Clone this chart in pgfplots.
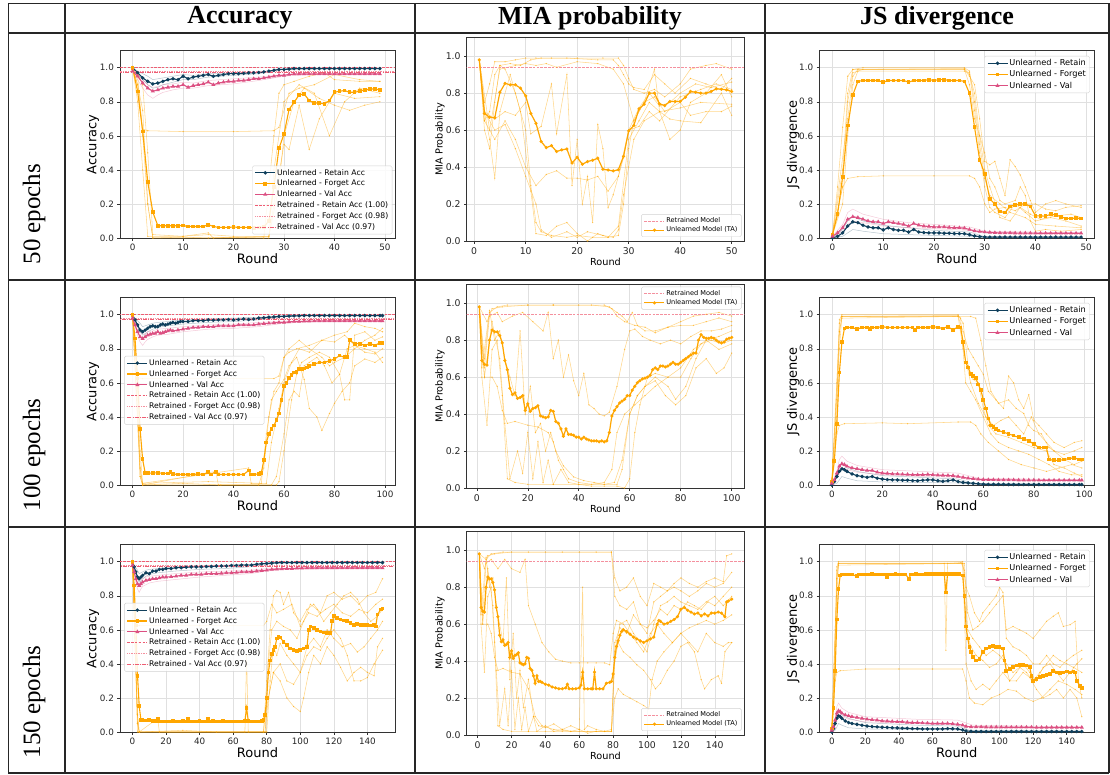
\documentclass[border=0pt]{standalone}
\usepackage{fontspec}
\setmainfont{DejaVu Sans}
\newfontfamily\headserif{Liberation Serif}
\usepackage{pgfplots}
\pgfplotsset{compat=1.18}
\definecolor{navy}{HTML}{0F3F5C}
\definecolor{orng}{HTML}{FFA600}
\definecolor{pinkv}{HTML}{DC5082}
\definecolor{retr}{HTML}{EE5D73}
\definecolor{retrl}{HTML}{F4909E}
\newcommand{\fs}[1]{\fontsize{#1}{#1}\selectfont}
\pgfplotsset{
 panel/.style={scale only axis, ymin=0, ymax=1.1, ytick={0,0.2,0.4,0.6,0.8,1.0},
  yticklabel style={/pgf/number format/fixed,/pgf/number format/fixed zerofill,/pgf/number format/precision=1},
  scaled ticks=false, /pgf/number format/assume math mode=true,
  grid=major, major grid style={black!12, line width=0.5pt},
  axis line style={black!80, line width=0.6pt},
  tick align=outside, major tick length=2.6pt, tick style={black!80, line width=0.5pt}, tick pos=left,
  tick label style={text=black!85},
  xlabel={Round}, legend cell align=left,
  legend image code/.code={\draw[mark repeat=2,mark phase=2] plot coordinates {(0pt,0pt)(10pt,0pt)(20pt,0pt)};},
  legend style={draw=black!18, rounded corners=1.5pt, fill=white, fill opacity=0.85, text opacity=1, inner xsep=2.5pt, inner ysep=2pt, row sep=0.9pt, nodes={inner sep=1.3pt}}},
 accax/.style={panel, width=275pt, height=187.3pt,
  tick label style={font=\fs{8.8}},
  xlabel style={font=\fs{13}, at={(axis description cs:0.5,-0.112)}, anchor=center},
  ylabel style={font=\fs{13}, at={(axis description cs:-0.098,0.5)}, anchor=center},
  legend style={font=\fs{7.7}}},
 miaax/.style={panel, width=277.6pt, height=203.3pt,
  tick label style={font=\fs{9.3}},
  xlabel style={font=\fs{9.7}, at={(axis description cs:0.5,-0.102)}, anchor=center},
  ylabel style={font=\fs{9.7}, at={(axis description cs:-0.096,0.5)}, anchor=center},
  ylabel={MIA Probability},
  legend style={font=\fs{6.6}, row sep=0.2pt}},
 jsax/.style={panel, width=275pt, height=187.3pt,
  tick label style={font=\fs{8.8}},
  xlabel style={font=\fs{13}, at={(axis description cs:0.5,-0.112)}, anchor=center},
  ylabel style={font=\fs{13}, at={(axis description cs:-0.095,0.5)}, anchor=center},
  ylabel={JS divergence},
  legend style={font=\fs{8.2}, at={(0.984,0.972)}, anchor=north east}},
 meanR/.style={navy, line width=1.1pt, mark=*, mark size=1.15pt},
 meanF/.style={orng, line width=1.1pt, mark=square*, mark size=1.3pt},
 meanV/.style={pinkv, line width=1.1pt, mark=triangle*, mark size=1.3pt},
 meanM/.style={orng, line width=1.2pt, mark=*, mark size=0.9pt},
 faintF/.style={orng, opacity=0.45, line width=0.55pt, mark=*, mark size=0.4pt, forget plot},
 faintR/.style={navy, opacity=0.3, line width=0.5pt, forget plot},
 faintV/.style={pinkv, opacity=0.3, line width=0.5pt, forget plot},
 retR/.style={retr, line width=0.7pt, dash pattern=on 2.5pt off 1.3pt},
 retF/.style={retrl, line width=0.8pt, dash pattern=on 0.8pt off 0.9pt},
 retV/.style={retr, line width=0.7pt, dash pattern=on 4pt off 1.2pt on 0.8pt off 1.2pt},
 retM/.style={retrl, line width=0.7pt, dash pattern=on 2.5pt off 1.3pt},
}
\begin{document}
\begin{tikzpicture}[x=1pt,y=1pt]
\useasboundingbox (0,0) rectangle (1110,-774);
% ---------- table ----------
\begin{scope}[line width=1.3pt, black!85]
\draw (8.3,-3.3) -- (1109,-3.3);
\draw (8.3,-33) -- (1109,-33);
\draw (8.3,-280) -- (1109,-280);
\draw (8.3,-527) -- (1109,-527);
\draw (8.3,-773) -- (1109,-773);
\draw (8.3,-3.3) -- (8.3,-773);
\draw (65,-3.3) -- (65,-773);
\draw (415,-3.3) -- (415,-773);
\draw (765,-3.3) -- (765,-773);
\draw (1109,-3.3) -- (1109,-773);
\end{scope}
\node[font=\headserif\bfseries\fs{26}] at (240,-18) {Accuracy};
\node[font=\headserif\bfseries\fs{26}] at (590,-18) {MIA probability};
\node[font=\headserif\bfseries\fs{26}] at (937,-18) {JS divergence};
\node[font=\headserif\fs{25}, rotate=90, anchor=west] at (34,-268) {50 epochs};
\node[font=\headserif\fs{25}, rotate=90, anchor=west] at (34,-515) {100 epochs};
\node[font=\headserif\fs{25}, rotate=90, anchor=west] at (34,-762) {150 epochs};

% ================= ROW 1 =================
\begin{axis}[accax, at={(120pt,-238pt)}, anchor=south west, xmin=-2.5, xmax=52, xtick={0,10,...,50}, ylabel={Accuracy},
  legend style={at={(0.99,0.02)}, anchor=south east}]
\addplot[faintR] coordinates {(0,1.0)(1,0.96)(2,0.93)(3,0.9)(4,0.88)(5,0.885)(6,0.9)(8,0.915)(10,0.93)(12,0.93)(15,0.945)(20,0.955)(25,0.965)(28,0.98)(30,0.99)(35,0.993)(49,0.995)};
\addplot[faintR] coordinates {(0,1.0)(1,0.98)(2,0.965)(3,0.95)(4,0.93)(5,0.935)(6,0.94)(8,0.95)(10,0.96)(12,0.955)(15,0.965)(20,0.97)(25,0.975)(28,0.985)(30,0.993)(49,0.996)};
\addplot[faintV] coordinates {(0,0.98)(1,0.93)(2,0.88)(3,0.84)(4,0.82)(5,0.84)(6,0.855)(8,0.87)(10,0.88)(12,0.88)(15,0.895)(20,0.905)(25,0.925)(28,0.94)(30,0.95)(35,0.96)(49,0.962)};
\addplot[faintV] coordinates {(0,0.98)(1,0.96)(2,0.93)(3,0.9)(4,0.885)(5,0.89)(6,0.9)(8,0.905)(10,0.915)(12,0.91)(15,0.925)(20,0.935)(25,0.945)(28,0.955)(30,0.96)(49,0.965)};
\addplot[faintF] coordinates {(0,1.0)(1,0.95)(2,0.6)(3,0.2)(4,0.0)(10,0.005)(15,0.0)(20,0.005)(26,0.0)(27,0.3)(28,0.6)(29,0.85)(30,0.9)(32,0.92)(35,0.95)(38,0.97)(40,0.93)(45,0.92)(49,0.92)};
\addplot[faintF] coordinates {(0,1.0)(1,0.97)(2,0.9)(3,0.5)(4,0.02)(10,0.01)(15,0.02)(20,0.01)(27,0.01)(28,0.2)(30,0.55)(31,0.52)(33,0.78)(35,0.52)(37,0.7)(40,0.85)(44,0.82)(49,0.83)};
\addplot[faintF] coordinates {(0,1.0)(1,0.9)(2,0.64)(3,0.63)(10,0.625)(20,0.625)(28,0.63)(29,0.65)(31,0.85)(33,0.88)(36,0.9)(40,0.96)(45,0.93)(49,0.92)};
\addplot[faintF] coordinates {(0,1.0)(1,0.8)(2,0.4)(3,0.01)(10,0.01)(15,0.03)(16,0.0)(27,0.01)(29,0.3)(30,0.6)(32,0.8)(34,0.88)(37,0.82)(40,0.78)(43,0.75)(46,0.78)(49,0.8)};
\addplot[faintF] coordinates {(0,1.0)(1,0.9)(2,0.75)(3,0.2)(4,0.0)(27,0.0)(28,0.4)(30,0.8)(33,0.9)(36,0.85)(39,0.6)(42,0.8)(45,0.88)(49,0.85)};
\addplot[meanR] coordinates {(0,1.0)(1,0.97)(2,0.94)(3,0.92)(4,0.905)(5,0.91)(6,0.92)(7,0.93)(8,0.935)(9,0.93)(10,0.95)(11,0.935)(12,0.945)(13,0.95)(14,0.955)(15,0.96)(16,0.95)(17,0.955)(18,0.96)(19,0.965)(20,0.965)(21,0.965)(22,0.967)(23,0.97)(24,0.97)(25,0.972)(26,0.975)(27,0.98)(28,0.985)(29,0.99)(30,0.99)(31,0.992)(32,0.995)(33,0.995)(34,0.995)(35,0.995)(36,0.995)(37,0.995)(38,0.995)(39,0.995)(40,0.995)(41,0.995)(42,0.995)(43,0.995)(44,0.995)(45,0.995)(46,0.995)(47,0.995)(48,0.995)(49,0.995)};
\addlegendentry{Unlearned - Retain Acc}
\addplot[meanF] coordinates {(0,1.0)(1,0.86)(2,0.625)(3,0.33)(4,0.152)(5,0.072)(6,0.072)(7,0.072)(8,0.072)(9,0.072)(10,0.073)(11,0.068)(12,0.068)(13,0.067)(14,0.068)(15,0.078)(16,0.068)(17,0.062)(18,0.062)(19,0.062)(20,0.065)(21,0.062)(22,0.062)(23,0.062)(24,0.060)(25,0.062)(26,0.065)(27,0.10)(28,0.30)(29,0.527)(30,0.61)(31,0.755)(32,0.797)(33,0.84)(34,0.846)(35,0.807)(36,0.793)(37,0.793)(38,0.787)(39,0.807)(40,0.856)(41,0.862)(42,0.866)(43,0.856)(44,0.856)(45,0.862)(46,0.87)(47,0.875)(48,0.875)(49,0.87)};
\addlegendentry{Unlearned - Forget Acc}
\addplot[meanV] coordinates {(0,0.98)(1,0.95)(2,0.91)(3,0.88)(4,0.862)(5,0.87)(6,0.88)(7,0.885)(8,0.89)(9,0.89)(10,0.90)(11,0.885)(12,0.895)(13,0.90)(14,0.905)(15,0.915)(16,0.90)(17,0.91)(18,0.915)(19,0.92)(20,0.92)(21,0.925)(22,0.925)(23,0.93)(24,0.935)(25,0.935)(26,0.94)(27,0.945)(28,0.95)(29,0.955)(30,0.955)(31,0.96)(32,0.963)(33,0.963)(34,0.963)(35,0.963)(36,0.963)(37,0.963)(38,0.963)(39,0.963)(40,0.963)(41,0.963)(42,0.963)(43,0.963)(44,0.963)(45,0.963)(46,0.963)(47,0.963)(48,0.963)(49,0.963)};
\addlegendentry{Unlearned - Val Acc}
\addplot[retR] coordinates {(-10,1.0)(200,1.0)};
\addlegendentry{Retrained - Retain Acc (1.00)}
\addplot[retF] coordinates {(-10,0.98)(200,0.98)};
\addlegendentry{Retrained - Forget Acc (0.98)}
\addplot[retV] coordinates {(-10,0.97)(200,0.97)};
\addlegendentry{Retrained - Val Acc (0.97)}
\end{axis}

\begin{axis}[miaax, at={(466.7pt,-241pt)}, anchor=south west, xmin=-1.45, xmax=52.45, xtick={0,10,...,50},
  legend style={at={(0.99,0.02)}, anchor=south east}]
\addplot[faintF] coordinates {(1,0.98)(2,0.75)(3,0.85)(4,0.97)(6,0.97)(8,0.98)(10,0.99)(12,0.99)(15,0.99)(20,0.99)(25,0.99)(28,0.99)(29,0.95)(30,0.88)(31,0.82)(33,0.80)(35,0.82)(37,0.78)(40,0.85)(42,0.93)(45,0.95)(47,0.96)(50,0.93)};
\addplot[faintF] coordinates {(1,0.98)(2,0.65)(3,0.7)(4,0.9)(5,0.95)(7,0.96)(9,0.95)(11,0.98)(13,0.99)(18,0.99)(24,0.98)(27,0.98)(28,0.95)(29,0.9)(30,0.85)(31,0.83)(33,0.82)(35,0.9)(37,0.85)(39,0.8)(42,0.88)(45,0.85)(48,0.82)(50,0.88)};
\addplot[faintF] coordinates {(1,0.98)(3,0.6)(5,0.93)(8,0.95)(10,0.96)(12,0.95)(14,0.96)(16,0.94)(20,0.97)(24,0.96)(27,0.93)(29,0.85)(31,0.65)(33,0.75)(35,0.93)(36,0.7)(38,0.55)(40,0.6)(42,0.75)(45,0.8)(48,0.9)(50,0.78)};
\addplot[faintF] coordinates {(1,0.98)(2,0.6)(3,0.5)(4,0.75)(5,0.95)(6,0.93)(8,0.8)(10,0.6)(11,0.3)(12,0.1)(13,0.05)(15,0.03)(18,0.02)(20,0.03)(23,0.02)(26,0.02)(28,0.03)(29,0.2)(30,0.5)(31,0.65)(33,0.75)(35,0.78)(37,0.7)(40,0.75)(42,0.68)(45,0.7)(48,0.7)(50,0.73)};
\addplot[faintF] coordinates {(1,0.98)(2,0.7)(3,0.55)(4,0.34)(5,0.7)(7,0.9)(9,0.7)(11,0.27)(12,0.04)(14,0.03)(16,0.08)(18,0.1)(20,0.04)(22,0.0)(24,0.04)(26,0.02)(28,0.08)(30,0.55)(32,0.65)(34,0.75)(36,0.7)(38,0.66)(40,0.65)(44,0.64)(48,0.8)(50,0.68)};
\addplot[faintF] coordinates {(1,0.98)(2,0.65)(4,0.55)(6,0.65)(8,0.55)(10,0.4)(12,0.3)(14,0.36)(16,0.38)(18,0.34)(20,0.34)(22,0.33)(24,0.35)(26,0.27)(28,0.35)(29,0.45)(30,0.6)(32,0.62)(34,0.7)(36,0.65)(40,0.78)(44,0.82)(47,0.85)(50,0.82)};
\addplot[faintF] coordinates {(1,0.98)(2,0.7)(4,0.66)(6,0.7)(8,0.68)(10,0.75)(11,0.58)(13,0.62)(15,0.85)(16,0.58)(18,0.9)(19,0.3)(20,0.55)(21,0.2)(22,0.35)(23,0.1)(24,0.63)(25,0.5)(26,0.18)(27,0.25)(28,0.35)(30,0.6)(32,0.72)(34,0.8)(36,0.73)(38,0.75)(40,0.8)(43,0.85)(46,0.83)(50,0.86)};
\addplot[faintF] coordinates {(1,0.98)(2,0.7)(4,0.6)(6,0.63)(8,0.5)(10,0.35)(12,0.2)(13,0.06)(15,0.02)(18,0.05)(20,0.02)(22,0.05)(25,0.03)(27,0.02)(28,0.06)(29,0.25)(30,0.4)(31,0.55)(33,0.65)(36,0.7)(40,0.72)(44,0.75)(50,0.74)};
\addplot[retM] coordinates {(-10,0.942)(200,0.942)};
\addlegendentry{Retrained Model}
\addplot[meanM] coordinates {(1,0.98)(2,0.69)(3,0.67)(4,0.667)(5,0.805)(6,0.853)(7,0.845)(8,0.845)(9,0.827)(10,0.785)(11,0.69)(12,0.637)(13,0.538)(14,0.505)(15,0.516)(16,0.484)(17,0.493)(18,0.498)(19,0.422)(20,0.453)(21,0.415)(22,0.43)(23,0.437)(24,0.448)(25,0.388)(26,0.384)(27,0.379)(28,0.386)(29,0.458)(30,0.596)(31,0.625)(32,0.715)(33,0.74)(34,0.80)(35,0.80)(36,0.742)(37,0.733)(38,0.755)(39,0.755)(40,0.755)(41,0.778)(42,0.809)(43,0.805)(44,0.80)(45,0.80)(46,0.809)(47,0.823)(48,0.821)(49,0.818)(50,0.809)};
\addlegendentry{Unlearned Model (TA)}
\end{axis}

\begin{axis}[jsax, at={(819.3pt,-238pt)}, anchor=south west, xmin=-2.6, xmax=51.6, xtick={0,10,...,50}]
\addplot[faintR] coordinates {(0,0.0)(2,0.01)(3,0.03)(4,0.05)(6,0.04)(10,0.025)(15,0.02)(20,0.015)(27,0.01)(30,0.004)(49,0.003)};
\addplot[faintR] coordinates {(0,0.0)(2,0.05)(3,0.1)(4,0.125)(6,0.1)(10,0.075)(15,0.06)(20,0.045)(27,0.035)(30,0.008)(49,0.005)};
\addplot[faintV] coordinates {(0,0.01)(2,0.08)(3,0.15)(4,0.17)(6,0.14)(10,0.11)(15,0.09)(20,0.08)(27,0.065)(30,0.04)(49,0.03)};
\addplot[faintV] coordinates {(0,0.01)(2,0.04)(3,0.08)(4,0.1)(6,0.09)(10,0.07)(15,0.06)(20,0.055)(27,0.045)(30,0.03)(49,0.025)};
\addplot[faintF] coordinates {(0,0.02)(1,0.3)(2,0.65)(3,0.95)(4,0.99)(6,1.0)(26,1.0)(27,0.98)(28,0.8)(29,0.55)(30,0.35)(31,0.25)(33,0.2)(35,0.15)(38,0.12)(40,0.08)(44,0.07)(49,0.06)};
\addplot[faintF] coordinates {(0,0.02)(2,0.3)(3,0.8)(4,0.97)(6,0.99)(26,0.99)(27,0.95)(28,0.9)(29,0.7)(30,0.45)(31,0.43)(32,0.45)(33,0.35)(34,0.25)(35,0.46)(36,0.42)(37,0.37)(38,0.3)(39,0.22)(40,0.15)(42,0.2)(44,0.22)(46,0.2)(49,0.18)};
\addplot[faintF] coordinates {(0,0.02)(2,0.2)(3,0.6)(4,0.9)(5,0.98)(26,0.98)(27,0.97)(28,0.75)(29,0.5)(30,0.3)(31,0.18)(32,0.15)(34,0.12)(36,0.2)(38,0.15)(40,0.1)(43,0.12)(46,0.1)(49,0.07)};
\addplot[faintF] coordinates {(0,0.02)(2,0.3)(3,0.35)(5,0.36)(10,0.365)(20,0.365)(27,0.365)(28,0.35)(29,0.3)(30,0.2)(31,0.15)(32,0.17)(34,0.18)(36,0.16)(38,0.2)(40,0.2)(42,0.17)(44,0.16)(46,0.18)(49,0.19)};
\addplot[faintF] coordinates {(0,0.02)(2,0.4)(3,0.85)(4,0.99)(26,0.99)(27,0.9)(28,0.7)(29,0.6)(30,0.5)(31,0.35)(32,0.3)(33,0.22)(34,0.2)(36,0.22)(37,0.3)(38,0.25)(39,0.1)(40,0.04)(42,0.05)(45,0.04)(49,0.05)};
\addplot[faintF] coordinates {(0,0.02)(3,0.7)(4,0.95)(5,0.99)(26,0.995)(27,0.96)(28,0.85)(29,0.6)(30,0.4)(31,0.3)(33,0.12)(35,0.1)(37,0.18)(39,0.14)(41,0.11)(44,0.13)(47,0.14)(49,0.12)};
\addplot[meanR] coordinates {(0,0.0)(1,0.01)(2,0.03)(3,0.07)(4,0.095)(5,0.09)(6,0.075)(7,0.065)(8,0.06)(9,0.06)(10,0.048)(11,0.06)(12,0.05)(13,0.045)(14,0.045)(15,0.035)(16,0.05)(17,0.035)(18,0.032)(19,0.03)(20,0.03)(21,0.03)(22,0.028)(23,0.028)(24,0.026)(25,0.026)(26,0.025)(27,0.02)(28,0.012)(29,0.008)(30,0.006)(31,0.005)(32,0.005)(33,0.005)(34,0.005)(35,0.005)(36,0.005)(37,0.005)(38,0.005)(39,0.005)(40,0.005)(41,0.005)(42,0.005)(43,0.005)(44,0.005)(45,0.005)(46,0.005)(47,0.005)(48,0.005)(49,0.005)};
\addlegendentry{Unlearned - Retain}
\addplot[meanF] coordinates {(0,0.02)(1,0.14)(2,0.36)(3,0.66)(4,0.84)(5,0.92)(6,0.925)(7,0.925)(8,0.925)(9,0.925)(10,0.915)(11,0.925)(12,0.925)(13,0.925)(14,0.925)(15,0.915)(16,0.925)(17,0.925)(18,0.925)(19,0.93)(20,0.925)(21,0.93)(22,0.93)(23,0.925)(24,0.925)(25,0.925)(26,0.92)(27,0.85)(28,0.65)(29,0.46)(30,0.375)(31,0.23)(32,0.20)(33,0.155)(34,0.15)(35,0.185)(36,0.195)(37,0.20)(38,0.20)(39,0.185)(40,0.13)(41,0.13)(42,0.128)(43,0.14)(44,0.135)(45,0.125)(46,0.115)(47,0.115)(48,0.117)(49,0.115)};
\addlegendentry{Unlearned - Forget}
\addplot[meanV] coordinates {(0,0.01)(1,0.03)(2,0.06)(3,0.11)(4,0.125)(5,0.12)(6,0.11)(7,0.10)(8,0.095)(9,0.095)(10,0.085)(11,0.095)(12,0.09)(13,0.085)(14,0.08)(15,0.07)(16,0.085)(17,0.075)(18,0.07)(19,0.068)(20,0.065)(21,0.065)(22,0.065)(23,0.062)(24,0.06)(25,0.06)(26,0.058)(27,0.05)(28,0.042)(29,0.038)(30,0.035)(31,0.033)(32,0.031)(33,0.03)(34,0.03)(35,0.03)(36,0.029)(37,0.029)(38,0.029)(39,0.029)(40,0.028)(41,0.028)(42,0.028)(43,0.028)(44,0.028)(45,0.028)(46,0.028)(47,0.028)(48,0.028)(49,0.028)};
\addlegendentry{Unlearned - Val}
\end{axis}

% ================= ROW 2 =================
\begin{axis}[accax, at={(120pt,-485pt)}, anchor=south west, xmin=-4.95, xmax=103.95, xtick={0,20,...,100}, ylabel={Accuracy},
  legend style={at={(0.015,0.689)}, anchor=north west}]
\addplot[faintR] coordinates {(0,1.0)(1,0.96)(2,0.93)(3,0.9)(4,0.88)(5,0.885)(6,0.9)(8,0.915)(10,0.925)(14,0.935)(20,0.945)(30,0.955)(40,0.96)(50,0.97)(56,0.98)(60,0.99)(70,0.995)(99,0.995)};
\addplot[faintR] coordinates {(0,1.0)(1,0.98)(2,0.965)(3,0.95)(4,0.93)(5,0.935)(6,0.94)(8,0.95)(10,0.955)(14,0.96)(20,0.97)(30,0.975)(40,0.98)(50,0.985)(60,0.995)(99,0.996)};
\addplot[faintV] coordinates {(0,0.98)(1,0.93)(2,0.88)(3,0.84)(4,0.82)(5,0.84)(6,0.855)(8,0.87)(10,0.88)(14,0.885)(20,0.9)(30,0.915)(40,0.92)(50,0.93)(60,0.95)(70,0.958)(99,0.962)};
\addplot[faintV] coordinates {(0,0.98)(1,0.96)(2,0.93)(3,0.9)(4,0.885)(5,0.89)(6,0.9)(8,0.905)(10,0.915)(14,0.92)(20,0.93)(30,0.94)(40,0.945)(50,0.955)(60,0.962)(99,0.966)};
\addplot[faintF] coordinates {(0,1.0)(2,0.6)(3,0.05)(4,0.0)(20,0.01)(35,0.0)(50,0.0)(52,0.1)(54,0.4)(56,0.55)(58,0.6)(60,0.75)(62,0.78)(65,0.8)(70,0.82)(75,0.85)(80,0.88)(85,0.9)(88,0.95)(92,0.93)(96,0.92)(99,0.9)};
\addplot[faintF] coordinates {(0,1.0)(3,0.2)(4,0.01)(30,0.02)(51,0.01)(53,0.3)(55,0.5)(57,0.55)(60,0.62)(62,0.7)(65,0.75)(68,0.62)(70,0.45)(73,0.4)(75,0.32)(78,0.42)(80,0.48)(83,0.55)(86,0.6)(88,0.7)(92,0.74)(96,0.72)(99,0.75)};
\addplot[faintF] coordinates {(0,1.0)(2,0.63)(4,0.625)(30,0.625)(56,0.625)(58,0.64)(60,0.75)(62,0.8)(66,0.85)(70,0.8)(75,0.75)(78,0.7)(80,0.72)(84,0.75)(88,0.8)(92,0.85)(96,0.88)(99,0.92)};
\addplot[faintF] coordinates {(0,1.0)(3,0.1)(4,0.0)(33,0.08)(34,0.0)(55,0.0)(57,0.05)(60,0.3)(62,0.5)(64,0.55)(66,0.52)(68,0.7)(70,0.72)(73,0.75)(76,0.7)(79,0.6)(82,0.65)(85,0.8)(88,0.82)(92,0.78)(96,0.77)(99,0.8)};
\addplot[faintF] coordinates {(0,1.0)(3,0.05)(4,0.0)(57,0.0)(58,0.02)(60,0.2)(63,0.5)(65,0.65)(67,0.72)(70,0.75)(74,0.78)(78,0.75)(82,0.65)(84,0.5)(86,0.5)(88,0.88)(92,0.9)(96,0.85)(99,0.87)};
\addplot[faintF] coordinates {(0,1.0)(3,0.1)(4,0.01)(46,0.1)(47,0.01)(53,0.01)(55,0.25)(58,0.45)(60,0.6)(63,0.72)(66,0.8)(70,0.78)(75,0.85)(80,0.84)(84,0.88)(88,0.82)(92,0.8)(96,0.78)(99,0.72)};
\addplot[meanR] coordinates {(0,1.0)(1,0.97)(2,0.94)(3,0.91)(4,0.90)(5,0.91)(6,0.92)(7,0.93)(8,0.935)(9,0.93)(10,0.93)(11,0.94)(12,0.945)(13,0.94)(14,0.945)(15,0.95)(16,0.955)(17,0.95)(18,0.955)(19,0.96)(20,0.96)(22,0.96)(24,0.965)(26,0.965)(28,0.965)(30,0.97)(32,0.968)(34,0.97)(36,0.97)(38,0.972)(40,0.97)(42,0.972)(44,0.975)(46,0.972)(48,0.975)(50,0.98)(52,0.982)(54,0.985)(56,0.987)(58,0.99)(60,0.99)(62,0.992)(64,0.993)(66,0.994)(68,0.995)(70,0.995)(72,0.995)(74,0.995)(76,0.995)(78,0.995)(80,0.995)(82,0.995)(84,0.995)(86,0.995)(88,0.995)(90,0.995)(92,0.995)(94,0.995)(96,0.995)(98,0.995)(99,0.995)};
\addlegendentry{Unlearned - Retain Acc}
\addplot[meanF] coordinates {(0,1.0)(1,0.86)(2,0.625)(3,0.33)(4,0.152)(5,0.072)(6,0.07)(8,0.07)(10,0.072)(12,0.068)(14,0.068)(15,0.078)(16,0.065)(18,0.062)(20,0.062)(22,0.062)(24,0.062)(26,0.065)(28,0.062)(30,0.075)(31,0.062)(33,0.078)(34,0.062)(36,0.062)(38,0.062)(40,0.062)(42,0.062)(44,0.062)(46,0.085)(47,0.062)(48,0.062)(50,0.065)(51,0.07)(52,0.146)(53,0.25)(54,0.30)(55,0.33)(56,0.35)(57,0.38)(58,0.42)(59,0.5)(60,0.58)(61,0.60)(62,0.63)(63,0.645)(64,0.66)(65,0.665)(66,0.68)(67,0.68)(68,0.685)(69,0.69)(70,0.70)(72,0.71)(74,0.72)(76,0.72)(78,0.73)(80,0.74)(82,0.76)(84,0.75)(85,0.75)(86,0.85)(88,0.83)(90,0.83)(92,0.82)(94,0.83)(96,0.82)(98,0.835)(99,0.835)};
\addlegendentry{Unlearned - Forget Acc}
\addplot[meanV] coordinates {(0,0.98)(1,0.94)(2,0.9)(3,0.87)(4,0.86)(5,0.87)(6,0.88)(7,0.885)(8,0.89)(9,0.89)(10,0.90)(11,0.89)(12,0.895)(13,0.9)(14,0.905)(15,0.91)(16,0.905)(18,0.91)(20,0.915)(22,0.92)(24,0.925)(26,0.925)(28,0.93)(30,0.93)(32,0.93)(34,0.935)(36,0.935)(38,0.935)(40,0.935)(42,0.94)(44,0.94)(46,0.94)(48,0.94)(50,0.945)(52,0.948)(54,0.95)(56,0.952)(58,0.955)(60,0.955)(62,0.958)(64,0.96)(66,0.96)(68,0.962)(70,0.962)(72,0.963)(74,0.963)(76,0.963)(78,0.963)(80,0.963)(82,0.963)(84,0.963)(86,0.963)(88,0.963)(90,0.963)(92,0.963)(94,0.963)(96,0.963)(98,0.963)(99,0.963)};
\addlegendentry{Unlearned - Val Acc}
\addplot[retR] coordinates {(-10,1.0)(200,1.0)};
\addlegendentry{Retrained - Retain Acc (1.00)}
\addplot[retF] coordinates {(-10,0.98)(200,0.98)};
\addlegendentry{Retrained - Forget Acc (0.98)}
\addplot[retV] coordinates {(-10,0.97)(200,0.97)};
\addlegendentry{Retrained - Val Acc (0.97)}
\end{axis}

\begin{axis}[miaax, at={(466.7pt,-488pt)}, anchor=south west, xmin=-3.95, xmax=104.95, xtick={0,20,...,100},
  legend style={at={(0.99,0.99)}, anchor=north east}]
\addplot[faintF] coordinates {(1,0.98)(3,0.7)(5,0.95)(8,0.98)(12,0.99)(20,0.99)(30,0.99)(40,0.99)(50,0.99)(53,0.97)(55,0.93)(58,0.9)(62,0.88)(66,0.87)(70,0.84)(75,0.87)(80,0.9)(85,0.93)(90,0.94)(95,0.95)(100,0.93)};
\addplot[faintF] coordinates {(1,0.98)(4,0.9)(6,0.97)(10,0.98)(20,0.99)(30,0.99)(45,0.99)(52,0.98)(55,0.95)(57,0.93)(59,0.9)(61,0.95)(63,0.88)(66,0.85)(70,0.85)(75,0.87)(80,0.88)(85,0.88)(90,0.9)(95,0.92)(100,0.9)};
\addplot[faintF] coordinates {(1,0.98)(3,0.65)(5,0.93)(8,0.95)(10,0.9)(14,0.93)(18,0.95)(22,0.9)(26,0.85)(28,0.95)(30,0.7)(32,0.8)(34,0.6)(36,0.72)(38,0.58)(40,0.5)(42,0.62)(44,0.45)(46,0.43)(48,0.40)(50,0.39)(52,0.41)(55,0.55)(58,0.75)(60,0.85)(62,0.86)(65,0.82)(68,0.8)(72,0.78)(76,0.8)(80,0.78)(84,0.82)(88,0.85)(92,0.85)(96,0.86)(100,0.88)};
\addplot[faintF] coordinates {(1,0.98)(2,0.6)(4,0.34)(6,0.75)(8,0.8)(10,0.5)(12,0.05)(15,0.03)(20,0.02)(30,0.02)(40,0.02)(50,0.02)(55,0.02)(57,0.1)(60,0.4)(63,0.5)(66,0.55)(70,0.6)(75,0.55)(78,0.48)(82,0.55)(86,0.7)(90,0.8)(95,0.75)(100,0.78)};
\addplot[faintF] coordinates {(1,0.98)(3,0.6)(6,0.9)(9,0.7)(11,0.35)(13,0.05)(16,0.2)(18,0.08)(20,0.3)(22,0.05)(24,0.25)(26,0.03)(28,0.15)(30,0.02)(33,0.1)(36,0.03)(40,0.02)(45,0.01)(50,0.01)(55,0.01)(58,0.0)(60,0.05)(62,0.3)(64,0.45)(67,0.6)(70,0.62)(75,0.6)(80,0.65)(85,0.75)(90,0.8)(95,0.82)(100,0.85)};
\addplot[faintF] coordinates {(1,0.98)(3,0.6)(6,0.6)(8,0.55)(10,0.42)(12,0.35)(15,0.36)(20,0.34)(24,0.33)(28,0.3)(30,0.25)(32,0.15)(34,0.1)(36,0.05)(40,0.03)(45,0.02)(50,0.03)(53,0.1)(55,0.3)(58,0.4)(62,0.45)(66,0.5)(70,0.55)(75,0.6)(80,0.6)(84,0.7)(88,0.78)(92,0.8)(96,0.78)(100,0.8)};
\addplot[faintF] coordinates {(1,0.98)(2,0.65)(5,0.96)(7,0.8)(9,0.85)(11,0.7)(13,0.6)(15,0.5)(17,0.85)(19,0.4)(21,0.55)(23,0.3)(25,0.35)(27,0.2)(29,0.3)(31,0.2)(34,0.12)(38,0.06)(42,0.04)(46,0.03)(50,0.02)(54,0.03)(57,0.15)(60,0.4)(63,0.5)(66,0.55)(70,0.58)(74,0.5)(78,0.45)(82,0.5)(86,0.65)(90,0.7)(94,0.62)(97,0.65)(100,0.73)};
\addplot[retM] coordinates {(-10,0.942)(200,0.942)};
\addlegendentry{Retrained Model}
\addplot[meanM] coordinates {(1,0.98)(2,0.69)(3,0.67)(4,0.665)(5,0.80)(6,0.855)(7,0.845)(8,0.845)(9,0.825)(10,0.785)(11,0.69)(12,0.64)(13,0.54)(14,0.505)(15,0.515)(16,0.485)(17,0.49)(18,0.50)(19,0.42)(20,0.455)(21,0.415)(22,0.43)(23,0.435)(24,0.445)(25,0.39)(26,0.385)(27,0.38)(28,0.385)(29,0.42)(30,0.415)(31,0.36)(32,0.35)(33,0.32)(34,0.28)(35,0.32)(36,0.29)(37,0.29)(38,0.285)(39,0.275)(40,0.275)(41,0.265)(42,0.275)(43,0.265)(44,0.26)(45,0.255)(46,0.255)(47,0.255)(48,0.25)(49,0.255)(50,0.25)(51,0.255)(52,0.30)(53,0.39)(54,0.42)(55,0.44)(56,0.46)(57,0.47)(58,0.48)(59,0.50)(60,0.50)(61,0.53)(62,0.55)(63,0.57)(64,0.58)(65,0.59)(66,0.595)(67,0.60)(68,0.61)(69,0.64)(70,0.65)(71,0.64)(72,0.66)(73,0.66)(74,0.655)(75,0.66)(76,0.67)(77,0.68)(78,0.67)(79,0.67)(80,0.68)(81,0.69)(82,0.70)(83,0.71)(84,0.72)(85,0.73)(86,0.73)(87,0.80)(88,0.83)(89,0.815)(90,0.81)(91,0.81)(92,0.815)(93,0.81)(94,0.80)(95,0.79)(96,0.785)(97,0.79)(98,0.805)(99,0.81)(100,0.815)};
\addlegendentry{Unlearned Model (TA)}
\end{axis}

\begin{axis}[jsax, at={(819.3pt,-485pt)}, anchor=south west, xmin=-4.95, xmax=103.95, xtick={0,20,...,100}]
\addplot[faintR] coordinates {(0,0.0)(2,0.01)(3,0.03)(4,0.05)(6,0.04)(10,0.025)(20,0.018)(35,0.015)(50,0.012)(56,0.004)(99,0.003)};
\addplot[faintR] coordinates {(0,0.0)(2,0.05)(3,0.1)(4,0.125)(6,0.1)(10,0.08)(20,0.055)(35,0.045)(50,0.035)(56,0.01)(99,0.005)};
\addplot[faintV] coordinates {(0,0.01)(2,0.08)(3,0.15)(4,0.17)(6,0.14)(10,0.115)(20,0.09)(35,0.08)(50,0.07)(58,0.04)(99,0.03)};
\addplot[faintV] coordinates {(0,0.01)(2,0.04)(3,0.08)(4,0.1)(6,0.09)(10,0.075)(20,0.06)(35,0.05)(50,0.045)(58,0.03)(99,0.025)};
\addplot[faintF] coordinates {(0,0.02)(2,0.6)(3,0.97)(4,1.0)(50,1.0)(52,0.95)(54,0.7)(56,0.62)(58,0.6)(60,0.45)(62,0.35)(65,0.3)(70,0.28)(75,0.25)(80,0.22)(85,0.2)(88,0.12)(92,0.1)(96,0.07)(99,0.05)};
\addplot[faintF] coordinates {(0,0.02)(2,0.4)(3,0.9)(4,0.99)(55,0.99)(57,0.98)(59,0.85)(61,0.7)(63,0.55)(66,0.48)(70,0.5)(73,0.45)(76,0.42)(78,0.35)(80,0.32)(83,0.3)(86,0.22)(88,0.2)(92,0.18)(96,0.2)(99,0.22)};
\addplot[faintF] coordinates {(0,0.02)(2,0.3)(3,0.35)(5,0.36)(20,0.365)(30,0.36)(50,0.37)(55,0.37)(57,0.35)(59,0.3)(62,0.25)(66,0.2)(70,0.15)(75,0.12)(80,0.1)(85,0.08)(90,0.1)(95,0.12)(99,0.1)};
\addplot[faintF] coordinates {(0,0.02)(3,0.8)(4,0.99)(50,0.99)(52,0.9)(54,0.8)(56,0.75)(58,0.7)(60,0.65)(62,0.55)(65,0.5)(68,0.45)(70,0.64)(72,0.6)(74,0.5)(76,0.45)(78,0.53)(80,0.38)(82,0.35)(85,0.3)(88,0.25)(92,0.22)(96,0.25)(99,0.26)};
\addplot[faintF] coordinates {(0,0.02)(2,0.5)(3,0.95)(4,0.99)(50,0.995)(51,0.98)(53,0.6)(55,0.55)(57,0.5)(60,0.4)(63,0.3)(66,0.25)(70,0.22)(74,0.2)(78,0.18)(82,0.15)(86,0.12)(90,0.08)(95,0.06)(99,0.06)};
\addplot[faintF] coordinates {(0,0.02)(3,0.9)(4,0.98)(50,0.99)(52,0.8)(55,0.6)(58,0.48)(61,0.4)(64,0.35)(67,0.38)(70,0.4)(73,0.35)(76,0.3)(79,0.4)(82,0.3)(85,0.25)(88,0.2)(92,0.15)(96,0.12)(99,0.14)};
\addplot[meanR] coordinates {(0,0.0)(1,0.02)(2,0.05)(3,0.08)(4,0.095)(5,0.09)(6,0.08)(8,0.065)(10,0.055)(12,0.05)(14,0.045)(16,0.05)(18,0.04)(20,0.035)(22,0.032)(24,0.03)(26,0.03)(28,0.028)(30,0.028)(32,0.026)(34,0.025)(36,0.028)(38,0.03)(40,0.03)(42,0.025)(44,0.022)(46,0.025)(48,0.03)(50,0.02)(52,0.015)(54,0.012)(56,0.01)(58,0.007)(60,0.005)(62,0.004)(64,0.004)(66,0.004)(68,0.004)(70,0.003)(72,0.003)(74,0.003)(76,0.003)(78,0.003)(80,0.003)(82,0.003)(84,0.003)(86,0.003)(88,0.003)(90,0.003)(92,0.003)(94,0.003)(96,0.003)(98,0.003)(99,0.003)};
\addlegendentry{Unlearned - Retain}
\addplot[meanF] coordinates {(0,0.02)(1,0.14)(2,0.36)(3,0.66)(4,0.84)(5,0.92)(6,0.925)(8,0.925)(10,0.915)(12,0.925)(14,0.925)(15,0.915)(16,0.925)(18,0.925)(20,0.93)(22,0.925)(24,0.925)(26,0.925)(28,0.925)(30,0.925)(32,0.925)(33,0.91)(34,0.925)(36,0.925)(38,0.925)(40,0.93)(42,0.925)(44,0.92)(46,0.93)(48,0.91)(50,0.93)(51,0.925)(52,0.84)(53,0.72)(54,0.69)(55,0.65)(56,0.64)(57,0.63)(58,0.59)(59,0.56)(60,0.50)(61,0.45)(62,0.39)(63,0.35)(64,0.34)(65,0.33)(66,0.32)(68,0.31)(70,0.30)(72,0.29)(74,0.28)(76,0.27)(78,0.26)(80,0.24)(82,0.22)(84,0.22)(85,0.22)(86,0.15)(88,0.145)(90,0.145)(92,0.15)(94,0.155)(96,0.16)(98,0.15)(99,0.15)};
\addlegendentry{Unlearned - Forget}
\addplot[meanV] coordinates {(0,0.01)(1,0.03)(2,0.07)(3,0.11)(4,0.125)(5,0.12)(6,0.11)(8,0.10)(10,0.095)(12,0.09)(14,0.085)(16,0.085)(18,0.075)(20,0.07)(22,0.068)(24,0.065)(26,0.065)(28,0.063)(30,0.062)(32,0.06)(34,0.06)(36,0.06)(38,0.062)(40,0.06)(42,0.058)(44,0.057)(46,0.056)(48,0.055)(50,0.05)(52,0.045)(54,0.04)(56,0.037)(58,0.034)(60,0.032)(62,0.031)(64,0.031)(66,0.03)(68,0.03)(70,0.03)(72,0.03)(74,0.029)(76,0.029)(78,0.029)(80,0.029)(82,0.028)(84,0.028)(86,0.028)(88,0.028)(90,0.028)(92,0.028)(94,0.028)(96,0.028)(98,0.028)(99,0.028)};
\addlegendentry{Unlearned - Val}
\end{axis}

% ================= ROW 3 =================
\begin{axis}[accax, at={(120pt,-732pt)}, anchor=south west, xmin=-7.45, xmax=156.45, xtick={0,20,...,140}, ylabel={Accuracy},
  legend style={at={(0.015,0.689)}, anchor=north west}]
\addplot[faintR] coordinates {(0,1.0)(1,0.96)(2,0.93)(3,0.9)(4,0.88)(5,0.885)(6,0.9)(8,0.915)(10,0.925)(15,0.935)(25,0.945)(40,0.955)(55,0.96)(70,0.97)(80,0.985)(90,0.993)(149,0.995)};
\addplot[faintR] coordinates {(0,1.0)(1,0.98)(2,0.965)(3,0.95)(4,0.93)(5,0.935)(6,0.94)(8,0.95)(10,0.955)(15,0.96)(25,0.97)(40,0.975)(55,0.98)(70,0.985)(80,0.993)(149,0.996)};
\addplot[faintV] coordinates {(0,0.98)(1,0.93)(2,0.88)(3,0.84)(4,0.82)(5,0.84)(6,0.855)(8,0.865)(10,0.875)(15,0.885)(25,0.895)(40,0.91)(55,0.92)(70,0.93)(80,0.945)(90,0.955)(149,0.962)};
\addplot[faintV] coordinates {(0,0.98)(1,0.96)(2,0.93)(3,0.9)(4,0.885)(5,0.89)(6,0.9)(8,0.91)(10,0.915)(15,0.92)(25,0.93)(40,0.94)(55,0.945)(70,0.95)(80,0.96)(149,0.966)};
\addplot[faintF] coordinates {(0,1.0)(3,0.1)(4,0.0)(30,0.01)(50,0.0)(78,0.0)(80,0.3)(82,0.6)(84,0.8)(86,0.83)(88,0.82)(90,0.75)(93,0.82)(96,0.7)(100,0.65)(104,0.72)(108,0.75)(112,0.7)(116,0.8)(120,0.82)(125,0.78)(130,0.8)(135,0.75)(140,0.8)(145,0.82)(149,0.9)};
\addplot[faintF] coordinates {(0,1.0)(3,0.05)(4,0.0)(67,0.0)(68,0.45)(69,0.0)(79,0.0)(81,0.2)(84,0.35)(88,0.3)(92,0.2)(96,0.15)(100,0.12)(102,0.2)(105,0.35)(108,0.45)(112,0.4)(116,0.5)(120,0.45)(124,0.38)(128,0.3)(132,0.35)(136,0.38)(140,0.35)(144,0.33)(146,0.5)(149,0.55)};
\addplot[faintF] coordinates {(0,1.0)(2,0.63)(4,0.625)(40,0.625)(78,0.625)(80,0.65)(83,0.75)(86,0.7)(90,0.72)(95,0.75)(100,0.62)(105,0.7)(110,0.68)(115,0.72)(120,0.75)(125,0.7)(130,0.68)(135,0.72)(140,0.7)(145,0.75)(149,0.78)};
\addplot[faintF] coordinates {(0,1.0)(3,0.1)(4,0.0)(15,0.08)(16,0.0)(80,0.0)(82,0.3)(84,0.5)(86,0.45)(88,0.52)(92,0.45)(96,0.4)(100,0.35)(104,0.5)(108,0.55)(112,0.5)(116,0.6)(120,0.55)(125,0.5)(130,0.52)(134,0.47)(138,0.5)(142,0.55)(146,0.6)(149,0.65)};
\addplot[faintF] coordinates {(0,1.0)(3,0.05)(4,0.0)(79,0.0)(81,0.4)(83,0.6)(86,0.65)(90,0.62)(94,0.6)(98,0.55)(102,0.65)(106,0.75)(110,0.72)(114,0.65)(118,0.7)(122,0.75)(126,0.8)(130,0.82)(134,0.78)(138,0.7)(142,0.65)(146,0.68)(149,0.72)};
\addplot[faintF] coordinates {(0,1.0)(3,0.0)(78,0.0)(80,0.15)(84,0.35)(88,0.4)(92,0.3)(96,0.28)(100,0.35)(104,0.45)(108,0.5)(112,0.48)(116,0.55)(120,0.6)(124,0.55)(128,0.45)(132,0.3)(136,0.3)(140,0.32)(144,0.4)(149,0.48)};
\addplot[meanR] coordinates {(0,1.0)(1,0.97)(2,0.94)(3,0.91)(4,0.90)(5,0.91)(6,0.92)(8,0.935)(10,0.93)(12,0.945)(14,0.945)(16,0.955)(18,0.955)(20,0.96)(23,0.96)(26,0.965)(29,0.965)(32,0.968)(35,0.97)(38,0.97)(41,0.97)(44,0.972)(47,0.972)(50,0.975)(53,0.975)(56,0.975)(59,0.978)(62,0.978)(65,0.98)(68,0.98)(71,0.98)(74,0.985)(77,0.988)(80,0.99)(83,0.992)(86,0.994)(89,0.995)(92,0.995)(95,0.995)(98,0.995)(101,0.995)(104,0.995)(107,0.995)(110,0.995)(113,0.995)(116,0.995)(119,0.995)(122,0.995)(125,0.995)(128,0.995)(131,0.995)(134,0.995)(137,0.995)(140,0.995)(143,0.995)(146,0.995)(149,0.995)};
\addlegendentry{Unlearned - Retain Acc}
\addplot[meanF] coordinates {(0,1.0)(1,0.86)(2,0.625)(3,0.33)(4,0.152)(5,0.072)(6,0.07)(8,0.068)(10,0.07)(12,0.065)(14,0.065)(15,0.075)(16,0.062)(18,0.062)(20,0.062)(22,0.062)(24,0.065)(26,0.062)(28,0.062)(30,0.065)(32,0.062)(33,0.075)(34,0.062)(36,0.062)(38,0.062)(40,0.065)(42,0.062)(44,0.062)(45,0.075)(46,0.062)(48,0.065)(50,0.062)(52,0.062)(54,0.065)(56,0.062)(58,0.062)(60,0.062)(62,0.062)(64,0.062)(66,0.062)(67,0.065)(68,0.14)(69,0.065)(70,0.062)(72,0.062)(74,0.062)(76,0.062)(77,0.065)(78,0.07)(79,0.10)(80,0.20)(81,0.35)(82,0.42)(83,0.46)(84,0.48)(85,0.50)(86,0.55)(87,0.56)(88,0.555)(90,0.53)(92,0.51)(94,0.49)(96,0.48)(98,0.475)(100,0.48)(102,0.49)(104,0.50)(105,0.60)(106,0.62)(108,0.61)(110,0.60)(112,0.59)(114,0.585)(116,0.58)(118,0.58)(119,0.65)(120,0.68)(122,0.67)(124,0.66)(126,0.655)(128,0.65)(130,0.64)(132,0.63)(134,0.635)(136,0.63)(138,0.63)(140,0.63)(142,0.625)(144,0.63)(145,0.62)(146,0.69)(148,0.72)(149,0.725)};
\addlegendentry{Unlearned - Forget Acc}
\addplot[meanV] coordinates {(0,0.98)(1,0.94)(2,0.9)(3,0.87)(4,0.86)(5,0.87)(6,0.88)(8,0.89)(10,0.895)(12,0.9)(14,0.9)(16,0.905)(18,0.91)(20,0.91)(23,0.912)(26,0.915)(29,0.92)(32,0.92)(35,0.925)(38,0.925)(41,0.925)(44,0.93)(47,0.93)(50,0.93)(53,0.932)(56,0.935)(59,0.935)(62,0.937)(65,0.94)(68,0.94)(71,0.942)(74,0.945)(77,0.948)(80,0.95)(83,0.955)(86,0.957)(89,0.958)(92,0.96)(95,0.96)(98,0.962)(101,0.962)(104,0.963)(107,0.963)(110,0.963)(113,0.963)(116,0.963)(119,0.963)(122,0.963)(125,0.963)(128,0.963)(131,0.963)(134,0.963)(137,0.963)(140,0.963)(143,0.963)(146,0.963)(149,0.963)};
\addlegendentry{Unlearned - Val Acc}
\addplot[retR] coordinates {(-10,1.0)(200,1.0)};
\addlegendentry{Retrained - Retain Acc (1.00)}
\addplot[retF] coordinates {(-10,0.98)(200,0.98)};
\addlegendentry{Retrained - Forget Acc (0.98)}
\addplot[retV] coordinates {(-10,0.97)(200,0.97)};
\addlegendentry{Retrained - Val Acc (0.97)}
\end{axis}

\begin{axis}[miaax, at={(466.7pt,-735pt)}, anchor=south west, xmin=-6.45, xmax=157.45, xtick={0,20,...,140},
  legend style={at={(0.99,0.02)}, anchor=south east}]
\addplot[faintF] coordinates {(1,0.98)(4,0.9)(6,0.97)(10,0.98)(20,0.99)(40,0.99)(60,0.99)(79,0.99)(81,0.85)(84,0.78)(88,0.8)(92,0.85)(96,0.75)(100,0.7)(104,0.82)(108,0.8)(112,0.78)(116,0.82)(120,0.85)(125,0.82)(130,0.8)(135,0.83)(140,0.85)(145,0.83)(147,0.97)(150,0.98)};
\addplot[faintF] coordinates {(1,0.98)(5,0.95)(8,0.98)(15,0.99)(30,0.99)(50,0.99)(70,0.99)(79,0.99)(81,0.75)(84,0.7)(88,0.68)(92,0.72)(96,0.6)(100,0.55)(104,0.72)(108,0.75)(112,0.78)(116,0.8)(120,0.78)(125,0.75)(130,0.78)(135,0.82)(140,0.8)(145,0.82)(150,0.88)};
\addplot[faintF] coordinates {(1,0.98)(3,0.65)(5,0.93)(8,0.95)(12,0.9)(16,0.95)(20,0.9)(25,0.88)(28,0.95)(30,0.7)(34,0.6)(38,0.5)(42,0.45)(46,0.41)(50,0.40)(55,0.39)(60,0.39)(65,0.39)(70,0.39)(75,0.39)(78,0.38)(80,0.55)(82,0.62)(86,0.6)(90,0.55)(94,0.5)(98,0.45)(102,0.55)(106,0.6)(110,0.55)(115,0.5)(120,0.55)(125,0.5)(130,0.45)(135,0.55)(140,0.5)(145,0.48)(148,0.5)(150,0.5)};
\addplot[faintF] coordinates {(1,0.98)(2,0.6)(4,0.34)(6,0.75)(8,0.8)(10,0.5)(12,0.05)(15,0.03)(20,0.02)(30,0.02)(40,0.02)(50,0.02)(60,0.02)(70,0.02)(79,0.02)(81,0.4)(83,0.5)(86,0.45)(90,0.42)(94,0.38)(98,0.35)(102,0.3)(105,0.25)(108,0.28)(112,0.35)(116,0.4)(120,0.48)(124,0.5)(128,0.45)(132,0.3)(134,0.25)(138,0.3)(142,0.32)(144,0.28)(146,0.45)(150,0.5)};
\addplot[faintF] coordinates {(1,0.98)(3,0.6)(6,0.9)(9,0.7)(11,0.35)(13,0.05)(16,0.25)(18,0.05)(20,0.35)(22,0.03)(24,0.2)(26,0.03)(28,0.15)(30,0.02)(33,0.1)(35,0.02)(40,0.05)(45,0.02)(50,0.03)(55,0.02)(60,0.03)(65,0.01)(70,0.02)(75,0.02)(79,0.02)(81,0.2)(83,0.25)(86,0.22)(90,0.2)(94,0.18)(98,0.16)(101,0.14)(103,0.3)(106,0.4)(110,0.45)(115,0.5)(120,0.55)(125,0.58)(130,0.6)(135,0.62)(140,0.6)(145,0.62)(150,0.65)};
\addplot[faintF] coordinates {(1,0.98)(3,0.6)(6,0.6)(8,0.55)(10,0.42)(12,0.35)(15,0.36)(20,0.34)(25,0.33)(30,0.25)(34,0.1)(38,0.05)(45,0.03)(55,0.02)(65,0.02)(75,0.02)(79,0.03)(81,0.45)(84,0.6)(88,0.62)(92,0.55)(96,0.5)(100,0.45)(104,0.6)(108,0.7)(112,0.72)(116,0.75)(120,0.72)(125,0.7)(130,0.68)(135,0.72)(140,0.75)(145,0.7)(150,0.75)};
\addplot[faintF] coordinates {(1,0.98)(2,0.65)(5,0.96)(7,0.8)(9,0.85)(11,0.7)(13,0.6)(15,0.5)(17,0.85)(19,0.3)(21,0.55)(23,0.2)(25,0.35)(27,0.15)(30,0.3)(33,0.1)(36,0.05)(40,0.04)(45,0.06)(50,0.03)(55,0.05)(60,0.03)(62,0.8)(63,0.03)(65,0.05)(70,0.03)(75,0.02)(79,0.02)(81,0.5)(84,0.58)(88,0.55)(92,0.65)(96,0.6)(100,0.58)(104,0.62)(108,0.68)(112,0.65)(116,0.7)(120,0.68)(124,0.72)(128,0.7)(132,0.68)(136,0.72)(140,0.7)(145,0.75)(150,0.8)};
\addplot[retM] coordinates {(-10,0.942)(200,0.942)};
\addlegendentry{Retrained Model}
\addplot[meanM] coordinates {(1,0.98)(2,0.69)(3,0.67)(4,0.665)(5,0.80)(6,0.855)(7,0.845)(8,0.845)(9,0.825)(10,0.785)(11,0.69)(12,0.64)(13,0.54)(14,0.505)(15,0.515)(16,0.485)(17,0.49)(18,0.50)(19,0.42)(20,0.455)(21,0.415)(22,0.43)(23,0.435)(24,0.445)(25,0.39)(26,0.385)(27,0.38)(28,0.385)(29,0.42)(30,0.415)(31,0.36)(32,0.35)(33,0.32)(34,0.28)(35,0.32)(36,0.29)(37,0.29)(38,0.285)(40,0.275)(42,0.27)(44,0.26)(46,0.255)(48,0.25)(50,0.25)(52,0.255)(53,0.275)(54,0.25)(56,0.25)(58,0.25)(60,0.255)(61,0.27)(62,0.34)(63,0.25)(65,0.25)(67,0.25)(68,0.25)(69,0.34)(70,0.25)(72,0.25)(74,0.25)(76,0.28)(78,0.285)(79,0.29)(80,0.33)(81,0.42)(82,0.48)(83,0.51)(84,0.54)(85,0.56)(86,0.57)(88,0.56)(90,0.545)(92,0.53)(94,0.52)(96,0.51)(98,0.50)(100,0.51)(102,0.52)(104,0.53)(106,0.60)(107,0.62)(108,0.615)(110,0.60)(112,0.605)(114,0.615)(116,0.625)(118,0.64)(120,0.68)(122,0.69)(124,0.675)(126,0.665)(128,0.655)(130,0.66)(132,0.645)(134,0.655)(136,0.645)(138,0.66)(140,0.66)(142,0.665)(144,0.66)(146,0.64)(147,0.72)(148,0.725)(150,0.735)};
\addlegendentry{Unlearned Model (TA)}
\end{axis}

\begin{axis}[jsax, at={(819.3pt,-732pt)}, anchor=south west, xmin=-7.45, xmax=156.45, xtick={0,20,...,140}]
\addplot[faintR] coordinates {(0,0.0)(2,0.01)(3,0.03)(4,0.05)(6,0.04)(10,0.025)(20,0.018)(50,0.015)(75,0.012)(82,0.004)(149,0.003)};
\addplot[faintR] coordinates {(0,0.0)(2,0.05)(3,0.1)(4,0.125)(6,0.1)(10,0.08)(20,0.055)(50,0.04)(75,0.035)(82,0.01)(149,0.005)};
\addplot[faintV] coordinates {(0,0.01)(2,0.08)(3,0.15)(4,0.17)(6,0.14)(10,0.115)(20,0.09)(50,0.075)(75,0.07)(84,0.04)(149,0.03)};
\addplot[faintV] coordinates {(0,0.01)(2,0.04)(3,0.08)(4,0.1)(6,0.09)(10,0.075)(20,0.06)(50,0.05)(75,0.045)(84,0.03)(149,0.025)};
\addplot[faintF] coordinates {(0,0.02)(2,0.6)(3,0.97)(4,1.0)(78,1.0)(80,0.85)(82,0.8)(85,0.7)(88,0.65)(90,0.7)(94,0.75)(98,0.8)(100,0.85)(102,0.82)(104,0.55)(108,0.5)(112,0.48)(116,0.45)(120,0.4)(124,0.4)(128,0.45)(132,0.4)(136,0.38)(140,0.42)(144,0.45)(149,0.48)};
\addplot[faintF] coordinates {(0,0.02)(2,0.4)(3,0.9)(4,0.99)(79,0.99)(81,0.7)(84,0.6)(87,0.62)(90,0.65)(94,0.7)(98,0.75)(102,0.8)(104,0.6)(108,0.62)(112,0.6)(116,0.58)(120,0.55)(124,0.6)(128,0.65)(132,0.68)(135,0.7)(138,0.62)(142,0.63)(145,0.65)(147,0.3)(149,0.2)};
\addplot[faintF] coordinates {(0,0.02)(2,0.3)(3,0.35)(5,0.36)(20,0.37)(40,0.37)(60,0.37)(78,0.37)(80,0.3)(82,0.2)(85,0.17)(90,0.16)(95,0.2)(100,0.22)(105,0.25)(110,0.24)(115,0.2)(120,0.18)(125,0.2)(130,0.25)(135,0.3)(140,0.28)(145,0.25)(149,0.22)};
\addplot[faintF] coordinates {(0,0.02)(3,0.8)(4,0.99)(78,0.99)(80,0.6)(83,0.5)(86,0.45)(90,0.42)(94,0.38)(98,0.4)(102,0.45)(106,0.3)(110,0.3)(114,0.35)(118,0.32)(122,0.25)(126,0.2)(130,0.22)(134,0.25)(138,0.2)(142,0.25)(146,0.2)(149,0.09)};
\addplot[faintF] coordinates {(0,0.02)(2,0.5)(3,0.95)(4,0.99)(67,0.99)(68,0.48)(69,0.99)(77,0.995)(79,0.95)(81,0.6)(84,0.55)(88,0.5)(92,0.45)(96,0.48)(100,0.45)(104,0.4)(108,0.35)(112,0.38)(116,0.35)(120,0.3)(124,0.35)(128,0.4)(132,0.45)(136,0.42)(140,0.4)(144,0.38)(149,0.35)};
\addplot[faintF] coordinates {(0,0.02)(3,0.9)(4,0.98)(78,0.99)(80,0.4)(83,0.3)(86,0.25)(90,0.28)(94,0.25)(98,0.3)(102,0.35)(106,0.3)(110,0.35)(114,0.4)(118,0.35)(122,0.3)(126,0.38)(130,0.4)(134,0.35)(138,0.3)(142,0.35)(146,0.4)(149,0.43)};
\addplot[meanR] coordinates {(0,0.0)(1,0.02)(2,0.05)(3,0.08)(4,0.095)(5,0.09)(6,0.08)(8,0.065)(10,0.055)(12,0.05)(15,0.045)(18,0.04)(21,0.035)(24,0.032)(27,0.03)(30,0.028)(33,0.027)(36,0.025)(39,0.024)(42,0.022)(45,0.022)(48,0.02)(51,0.02)(54,0.018)(57,0.018)(60,0.018)(63,0.018)(66,0.018)(69,0.02)(72,0.019)(75,0.018)(78,0.012)(80,0.006)(83,0.004)(86,0.003)(89,0.003)(92,0.003)(95,0.003)(98,0.003)(101,0.003)(104,0.003)(107,0.003)(110,0.003)(113,0.003)(116,0.003)(119,0.003)(122,0.003)(125,0.003)(128,0.003)(131,0.003)(134,0.003)(137,0.003)(140,0.003)(143,0.003)(146,0.003)(149,0.003)};
\addlegendentry{Unlearned - Retain}
\addplot[meanF] coordinates {(0,0.02)(1,0.14)(2,0.36)(3,0.66)(4,0.84)(5,0.92)(6,0.925)(8,0.925)(10,0.925)(12,0.925)(15,0.915)(16,0.925)(18,0.925)(20,0.925)(22,0.925)(24,0.93)(26,0.925)(28,0.925)(30,0.925)(32,0.925)(33,0.91)(34,0.925)(36,0.925)(38,0.93)(40,0.925)(42,0.925)(44,0.925)(46,0.90)(47,0.925)(48,0.925)(50,0.93)(52,0.925)(54,0.925)(56,0.93)(58,0.93)(60,0.93)(62,0.93)(64,0.93)(66,0.93)(67,0.93)(68,0.82)(69,0.93)(70,0.93)(72,0.93)(74,0.93)(76,0.93)(78,0.92)(79,0.80)(80,0.62)(81,0.55)(82,0.50)(83,0.47)(84,0.44)(86,0.42)(88,0.43)(90,0.47)(92,0.49)(94,0.50)(96,0.505)(98,0.50)(100,0.50)(102,0.49)(103,0.42)(104,0.36)(106,0.37)(108,0.38)(110,0.39)(112,0.395)(114,0.395)(116,0.39)(118,0.38)(119,0.33)(120,0.30)(122,0.31)(124,0.325)(126,0.33)(128,0.335)(130,0.34)(132,0.36)(134,0.35)(136,0.345)(138,0.35)(140,0.355)(142,0.35)(144,0.355)(145,0.35)(146,0.30)(148,0.27)(149,0.26)};
\addlegendentry{Unlearned - Forget}
\addplot[meanV] coordinates {(0,0.01)(1,0.03)(2,0.07)(3,0.11)(4,0.125)(5,0.12)(6,0.11)(8,0.10)(10,0.095)(12,0.09)(15,0.085)(18,0.08)(21,0.075)(24,0.072)(27,0.07)(30,0.065)(33,0.064)(36,0.062)(39,0.06)(42,0.06)(45,0.057)(48,0.055)(51,0.055)(54,0.053)(57,0.052)(60,0.05)(63,0.05)(66,0.05)(69,0.05)(72,0.048)(75,0.045)(78,0.04)(80,0.033)(83,0.03)(86,0.03)(89,0.03)(92,0.029)(95,0.029)(98,0.029)(101,0.028)(104,0.028)(107,0.028)(110,0.028)(113,0.028)(116,0.028)(119,0.028)(122,0.027)(125,0.027)(128,0.027)(131,0.027)(134,0.027)(137,0.027)(140,0.027)(143,0.027)(146,0.027)(149,0.027)};
\addlegendentry{Unlearned - Val}
\end{axis}
\end{tikzpicture}
\end{document}
